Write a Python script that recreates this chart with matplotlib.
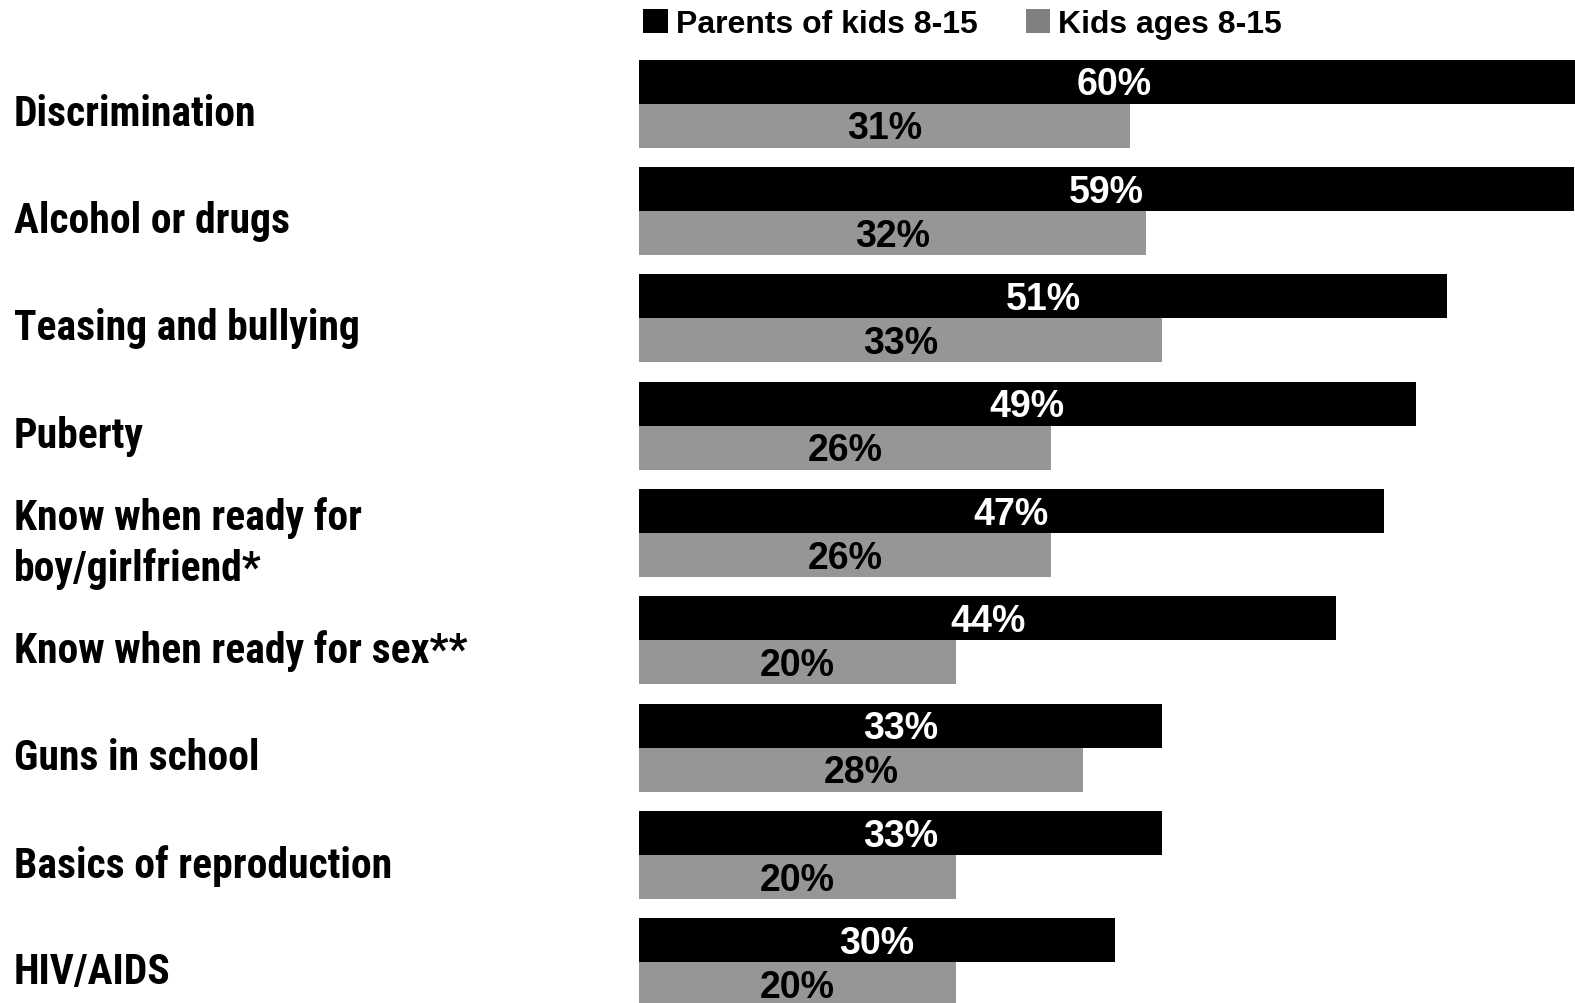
import os
import matplotlib
matplotlib.use("Agg")
import matplotlib.pyplot as plt
from matplotlib.patches import Patch
from matplotlib import font_manager
from matplotlib.transforms import blended_transform_factory
import numpy as np

categories = ["Discrimination", "Alcohol or drugs", "Teasing and bullying",
              "Puberty", "Know when ready for\nboy/girlfriend*",
              "Know when ready for sex**", "Guns in school",
              "Basics of reproduction", "HIV/AIDS"]
parents = [60, 59, 51, 49, 47, 44, 33, 33, 30]
kids = [31, 32, 33, 26, 26, 20, 28, 20, 20]
series_names = ["Parents of kids 8-15", "Kids ages 8-15"]

# condensed bold face for the row labels, first one found wins
wanted = ["robotocondensed-bold.ttf", "ptsansnarrow-bold.ttf",
          "pt_sans-narrow-web-bold.ttf", "archivonarrow-bold.ttf",
          "barlowsemicondensed-bold.ttf", "asapcondensed-bold.ttf"]
files = {os.path.basename(f.fname).lower(): f.fname
         for f in font_manager.fontManager.ttflist}
narrow_file = next((files[w] for w in wanted if w in files), None)


def narrow_bold(size):
    if narrow_file:
        return font_manager.FontProperties(fname=narrow_file, size=size)
    return font_manager.FontProperties(family="DejaVu Sans", weight="bold",
                                       stretch="condensed", size=size)


def arial_bold(size):
    return font_manager.FontProperties(family=["Liberation Sans", "DejaVu Sans"],
                                       weight="bold", size=size)


fig = plt.figure(figsize=(15.75, 10.04), dpi=100)
ax = fig.add_axes([639 / 1575, 0, 1 - 639 / 1575, 1])

y = np.arange(len(categories))
h = 0.41
ax.barh(y, parents, height=-h, align="edge", color="#000000")
ax.barh(y, kids, height=h, align="edge", color="#969696")

ax.set_xlim(0, 59.05)
ax.set_ylim(8.38, -0.975)
ax.axis("off")

for i in range(len(categories)):
    ax.text(parents[i] / 2, y[i] - h / 2 + 0.025, f"{parents[i]}%", color="white",
            ha="center", va="center", fontproperties=arial_bold(27))
    ax.text(kids[i] / 2, y[i] + h / 2 + 0.025, f"{kids[i]}%", color="black",
            ha="center", va="center", fontproperties=arial_bold(27))

# size the row labels so "Discrimination" comes out about 242 px wide
renderer = fig.canvas.get_renderer()
probe = fig.text(0, 0, categories[0], fontproperties=narrow_bold(30))
label_size = 30 * 242 / probe.get_window_extent(renderer).width
probe.remove()
label_size = min(max(label_size, 26), 34)

left = blended_transform_factory(fig.transFigure, ax.transData)
for i in range(len(categories)):
    ax.text(14 / 1575, y[i] + 0.09, categories[i], transform=left,
            ha="left", va="center", linespacing=1.25,
            fontproperties=narrow_bold(label_size))

handles = [Patch(facecolor="#000000", label=series_names[0]),
           Patch(facecolor="#808080", label=series_names[1])]
fig.legend(handles=handles, loc="upper left", bbox_to_anchor=(643 / 1575, 0.99),
           ncol=2, frameon=False, borderpad=0, borderaxespad=0,
           handlelength=0.78, handleheight=0.75, handletextpad=0.25,
           columnspacing=1.5, prop=arial_bold(23))

fig.savefig("out.png", dpi=100)
